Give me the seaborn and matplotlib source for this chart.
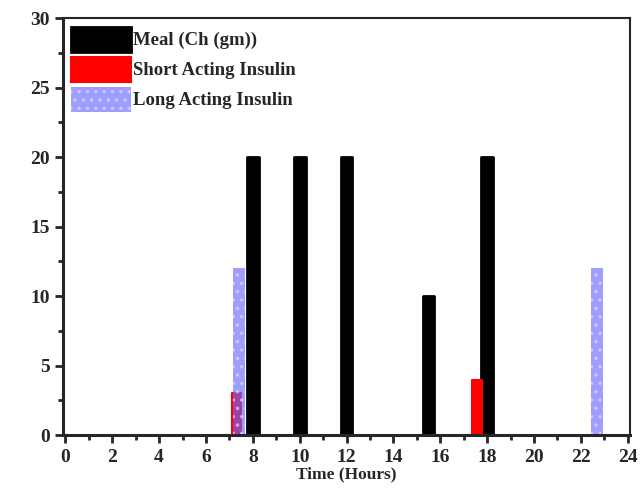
import numpy as np
import pandas as pd
import matplotlib
matplotlib.use('Agg')
import matplotlib.pyplot as plt
import seaborn as sns

# data
meal_time = [8, 10, 12, 15.5, 18]
meal_ch = [20, 20, 20, 10, 20]
short_time = [7.3, 17.55]
short_dose = [3, 4]
long_time = [7.4, 22.7]
long_dose = [12, 12]

sns.set_style('ticks')
plt.rcParams['font.family'] = ['Liberation Serif', 'DejaVu Serif']
plt.rcParams['font.weight'] = 'bold'
plt.rcParams['hatch.linewidth'] = 1.3

fig, ax = plt.subplots(figsize=(6.43, 4.9), dpi=100)
fig.subplots_adjust(left=0.098, right=0.98, top=0.963, bottom=0.112)

def bars(t, v, color, w, label, **kw):
    # native_scale: width is relative to the smallest gap between positions
    gap = np.min(np.diff(sorted(t))) if len(t) > 1 else 1
    sns.barplot(x=t, y=v, native_scale=True, width=w / gap, color=color,
                saturation=1, label=label, ax=ax, **kw)

bars(meal_time, meal_ch, 'black', 0.5, 'Meal (Ch (gm))',
     edgecolor='black', linewidth=2)
bars(short_time, short_dose, '#ff0000', 0.42, 'Short Acting Insulin',
     edgecolor='#ff0000', linewidth=1.5)
bars(long_time, long_dose, '#6a6aff', 0.52, 'Long Acting Insulin',
     edgecolor='#d8d8ff', linewidth=0, hatch='..', alpha=0.65)

for p in ax.patches:
    p.set_joinstyle('round')

ax.set_xlim(-0.1, 24.1)
ax.set_ylim(0, 30)
ax.set_xticks(range(0, 25, 2))
ax.set_xticks(range(0, 25, 1), minor=True)
ax.set_yticks(range(0, 31, 5))
ax.set_yticks(np.arange(0, 30.1, 2.5), minor=True)
ax.tick_params(axis='both', which='major', direction='out', length=6, width=2,
               labelsize=14, top=False, right=False)
ax.tick_params(axis='x', which='major', pad=4)
ax.tick_params(axis='both', which='minor', direction='out', length=3.5, width=2,
               top=False, right=False)
for s in ['left', 'bottom']:
    ax.spines[s].set_linewidth(2.2)
for s in ['top', 'right']:
    ax.spines[s].set_linewidth(1.5)
    ax.spines[s].set_visible(True)

ax.set_xlabel('Time (Hours)', fontsize=12.5, fontweight='bold', labelpad=0)
ax.set_ylabel('')

leg = ax.legend(loc='upper left', frameon=False, fontsize=13.5, handlelength=3.2,
                handleheight=1.7, labelspacing=0.25, handletextpad=0.1,
                borderaxespad=0.1, borderpad=0.35)

fig.savefig('out.png', dpi=100)
